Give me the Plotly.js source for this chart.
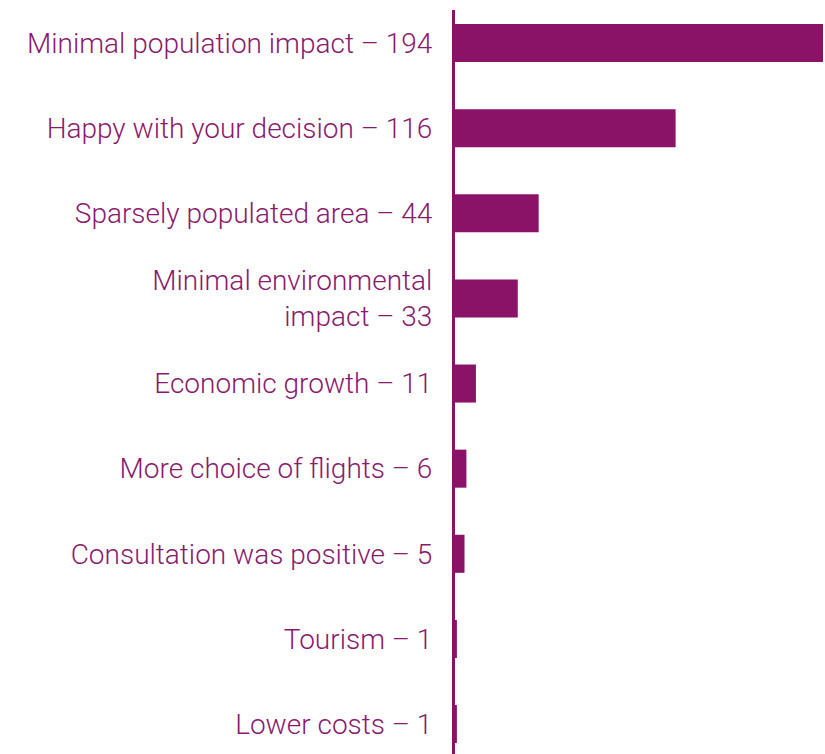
<!DOCTYPE html>
<html>
<head>
<meta charset="utf-8">
<script src="https://cdn.plot.ly/plotly-3.0.1.min.js"></script>
<style>html,body{margin:0;padding:0;background:#fff;}#chart{width:825px;height:754px;}</style>
</head>
<body>
<div id="chart"></div>
<script>
const categories = [
  "Minimal population impact – 194",
  "Happy with your decision – 116",
  "Sparsely populated area – 44",
  "Minimal environmental<br>impact – 33",
  "Economic growth – 11",
  "More choice of flights – 6",
  "Consultation was positive – 5",
  "Tourism – 1",
  "Lower costs – 1"
];
const values = [194, 116, 44, 33, 11, 6, 5, 1, 1];

const purple = "#8a1367";
const trace = {
  type: "bar",
  orientation: "h",
  x: values,
  y: categories,
  marker: {color: purple},
  width: 0.447,
  hoverinfo: "skip"
};
const fontFam = "Roboto, sans-serif";
const layout = {
  width: 825, height: 754,
  margin: {l: 455, r: 2, t: 10, b: 0},
  paper_bgcolor: "#fff", plot_bgcolor: "#fff",
  showlegend: false,
  font: {family: fontFam, size: 28, color: "#8a1a6e", weight: 300},
  xaxis: {range: [0, 193.5], visible: false, fixedrange: true},
  yaxis: {
    type: "category",
    range: [8.352, -0.388],
    showline: true, linecolor: purple, linewidth: 3,
    showgrid: false, zeroline: false,
    ticks: "outside", ticklen: 14, tickcolor: "rgba(0,0,0,0)",
    tickfont: {family: fontFam, size: 28, color: "#8a1a6e", weight: 300}
  }
};
Plotly.newPlot("chart", [trace], layout, {staticPlot: true, displayModeBar: false});
</script>
</body>
</html>
